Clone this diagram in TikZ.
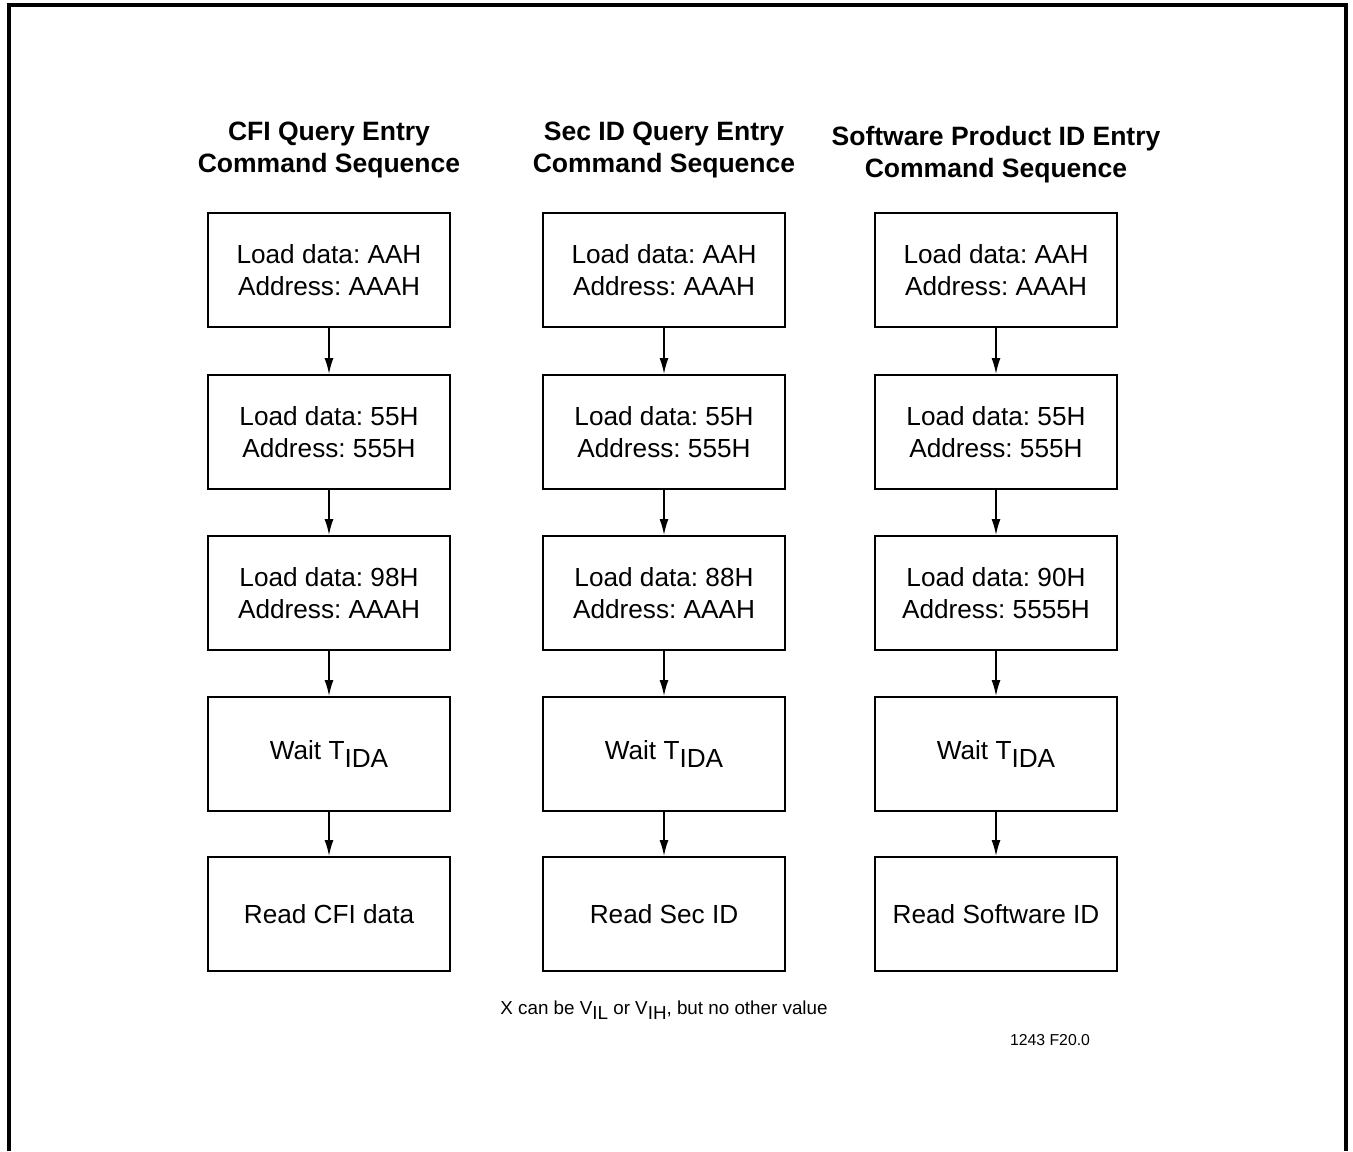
\documentclass[tikz,border=0pt]{standalone}
\usepackage{fontspec}
\setmainfont{Liberation Sans}
\usetikzlibrary{arrows.meta}
\frenchspacing
\tikzset{
  stepbox/.style={draw, line width=0.55pt, minimum width=24.2mm, minimum height=11.4mm,
    inner sep=0pt, align=center, font=\fontsize{7.45}{9.1}\selectfont},
  headline/.style={align=center, font=\fontsize{7.55}{9.1}\selectfont\bfseries},
  flow/.style={-{Latex[length=1.6mm,width=0.9mm]}, line width=0.45pt},
}
\newcommand{\lowsub}[1]{\raisebox{-0.8mm}{#1}}
\begin{document}
\begin{tikzpicture}[x=0.1mm, y=-0.1mm]
        \useasboundingbox (0,0) rectangle (1353,1151);
        % Marco
        \draw[line width=1pt] (9,1151) -- (9,5) -- (1346,5) -- (1346,1151);

        % CFI
        \begin{scope}
            \node[headline] (cfiT) at (329,150) {CFI Query Entry\\Command Sequence};
            \node[stepbox] (cfiA) at (329,270) {Load data: AAH\\Address: AAAH};
            \node[stepbox] (cfiB) at (329,432) {Load data: 55H\\Address: 555H};
            \node[stepbox] (cfiC) at (329,593) {Load data: 98H\\Address: AAAH};
            \node[stepbox] (cfiD) at (329,754) {Wait T\lowsub{IDA}};
            \node[stepbox] (cfiE) at (329,914) {Read CFI data};
            \draw[flow] (cfiA) -- (cfiB);
            \draw[flow] (cfiB) -- (cfiC);
            \draw[flow] (cfiC) -- (cfiD);
            \draw[flow] (cfiD) -- (cfiE);
        \end{scope}

        % Sec ID
        \begin{scope}
            \node[headline] (secT) at (664,150) {Sec ID Query Entry\\Command Sequence};
            \node[stepbox] (secA) at (664,270) {Load data: AAH\\Address: AAAH};
            \node[stepbox] (secB) at (664,432) {Load data: 55H\\Address: 555H};
            \node[stepbox] (secC) at (664,593) {Load data: 88H\\Address: AAAH};
            \node[stepbox] (secD) at (664,754) {Wait T\lowsub{IDA}};
            \node[stepbox] (secE) at (664,914) {Read Sec ID};
            \draw[flow] (secA) -- (secB);
            \draw[flow] (secB) -- (secC);
            \draw[flow] (secC) -- (secD);
            \draw[flow] (secD) -- (secE);
        \end{scope}

        % Software ID
        \begin{scope}
            \node[headline] (swT) at (996,155) {Software Product ID Entry\\Command Sequence};
            \node[stepbox] (swA) at (996,270) {Load data: AAH\\Address: AAAH};
            \node[stepbox] (swB) at (996,432) {Load data: 55H\\Address: 555H};
            \node[stepbox] (swC) at (996,593) {Load data: 90H\\Address: 5555H};
            \node[stepbox] (swD) at (996,754) {Wait T\lowsub{IDA}};
            \node[stepbox] (swE) at (996,914) {Read Software ID};
            \draw[flow] (swA) -- (swB);
            \draw[flow] (swB) -- (swC);
            \draw[flow] (swC) -- (swD);
            \draw[flow] (swD) -- (swE);
        \end{scope}

        % Notas
        \node[font=\fontsize{5.35}{6.5}\selectfont] (note) at (664,1010)
            {X can be V\raisebox{-0.55mm}{IL} or V\raisebox{-0.55mm}{IH}, but no other value};
        \node[font=\fontsize{4.5}{5.5}\selectfont] (figid) at (1050,1040) {1243 F20.0};
\end{tikzpicture}
\end{document}
